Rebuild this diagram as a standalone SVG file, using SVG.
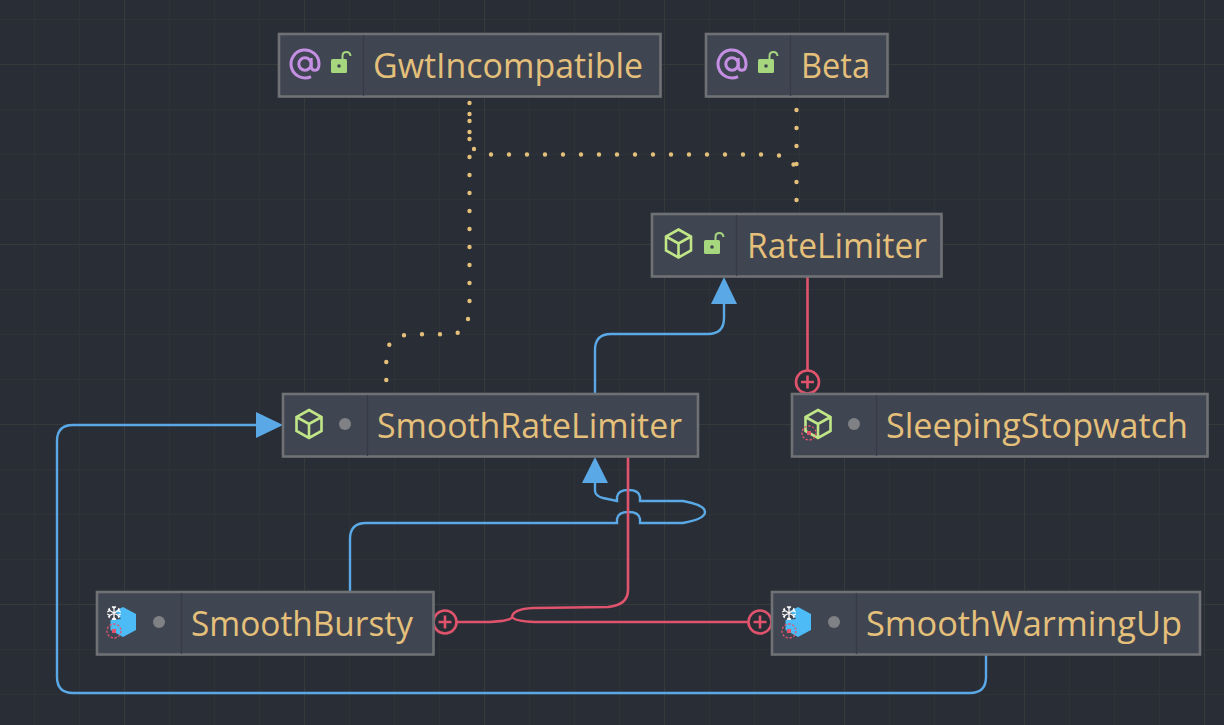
<svg xmlns="http://www.w3.org/2000/svg" width="1224" height="725" viewBox="0 0 1224 725">
  <style>
    .grid-minor { stroke: #2f3237; stroke-width: 1; }
    .grid-major { stroke: #37393b; stroke-width: 1; }
    .box { fill: #3f4551; stroke: #6f7175; stroke-width: 2.6; }
    .div { stroke: #363b45; stroke-width: 1.2; }
    .name { font-family: "Open Sans", sans-serif; font-size: 35.5px; fill: #e5c07b; }
    .blue { fill: none; stroke: #5aa9e6; stroke-width: 2.4; }
    .red { fill: none; stroke: #e0536d; stroke-width: 2.6; }
    .dots { fill: none; stroke: #e5c07b; stroke-width: 4.4; stroke-linecap: round; stroke-dasharray: 0 18; }
    .arrow { fill: #5aa9e6; }
    .dot { fill: #7f8184; }
    .cube { fill: none; stroke: #c0e688; stroke-width: 2.6; stroke-linejoin: miter; }
    .lock { fill: #a6d67e; }
    .shackle { fill: none; stroke: #a6d67e; stroke-width: 2; }
    .at { fill: none; stroke: #c58fe3; stroke-width: 3; }
    .flake { stroke: #ffffff; stroke-width: 1.2; fill: none; }
    .scope { fill: none; stroke: #e0536d; stroke-width: 1.3; stroke-dasharray: 2.4 1.6; }
    .scope-core { fill: #e0536d; }
    .joint { fill: #292d35; stroke: #e0536d; stroke-width: 2.6; }
    .solid { fill: #4dbbf5; }
  </style>
  <defs>
    <g id="annotation">
      <circle class="at" cx="0" cy="0" r="6.200"/>
      <path class="at" d="M6.200 -6 V2 Q6.200 6.300 10 6.300 Q14 6.300 14 0 A14 14 0 1 0 6 12.600"/>
    </g>
    <g id="open-lock">
      <rect class="lock" x="-8" y="-4" width="16" height="14" rx="1.500"/>
      <circle cx="0" cy="3" r="1.800" fill="#3f4551"/>
      <path class="shackle" d="M3.500 -4 V-7 Q3.500 -11 7.500 -11 Q11 -11 11.500 -7"/>
    </g>
    <g id="cube">
      <path class="cube" d="M0 -14 L12.500 -7 V7 L0 14 L-12.500 7 V-7 Z M-12.500 -7 L0 0 L12.500 -7 M0 0 V14"/>
    </g>
    <g id="solid-cube">
      <path class="solid" d="M0 -15 L13 -8 V8 L0 15 L-12.500 8 V-2 L-2 -3 L-8 -11 Z"/>
    </g>
    <g id="snow">
      <path class="flake" d="M0 -7 V7 M-6 -3.500 L6 3.500 M-6 3.500 L6 -3.500 M-2 -6.500 L0 -4.500 L2 -6.500 M-2 6.500 L0 4.500 L2 6.500 M-6.800 -1 L-4 -2.300 L-5 -5 M6.800 1 L4 2.300 L5 5 M-6.800 1 L-4 2.300 L-5 5 M6.800 -1 L4 -2.300 L5 -5"/>
    </g>
    <g id="scope-mark">
      <circle class="scope" cx="0" cy="0" r="7"/>
      <rect class="scope-core" x="-2" y="-2" width="4" height="4"/>
    </g>
  </defs>

  <rect width="1224" height="725" fill="#292d35"/>

  <!-- background grid -->
  <g id="grid">
    <path class="grid-minor" d="M34.500 0V725M79.500 0V725M169.500 0V725M214.500 0V725M259.500 0V725M349.500 0V725M394.500 0V725M439.500 0V725M529.500 0V725M574.500 0V725M619.500 0V725M709.500 0V725M754.500 0V725M799.500 0V725M889.500 0V725M934.500 0V725M979.500 0V725M1069.500 0V725M1114.500 0V725M1159.500 0V725M0 19.500H1224M0 109.500H1224M0 154.500H1224M0 199.500H1224M0 289.500H1224M0 334.500H1224M0 379.500H1224M0 469.500H1224M0 514.500H1224M0 559.500H1224M0 649.500H1224M0 694.500H1224"/>
    <path class="grid-major" d="M124.500 0V725M304.500 0V725M484.500 0V725M664.500 0V725M844.500 0V725M1024.500 0V725M1204.500 0V725M0 64.500H1224M0 244.500H1224M0 424.500H1224M0 604.500H1224"/>
  </g>

  <!-- relations between the classes -->
  <g id="connectors">
    <path class="dots" d="M796.500 200 V163.500 M793.500 164.500 h.01 M779 155.500 h.01 M761 154.500 H490.500 M474 149 h.01 M469.500 132 V113.500"/>
    <path class="dots" d="M386.300 380 V361.500 M389.300 344.700 h.01 M404 335.300 h.01 M422 334.300 h.01 M440 334.300 h.01 M457.700 332.700 h.01 M468 319 h.01 M469.500 301 V102.500"/>
    <path class="dots" d="M796.500 110 V163.500"/>
    <path class="blue" d="M595 394 V350 Q595 334 611 334 H708 Q724 334 724 318 V300"/>
    <path class="arrow" d="M724 277 L737 304 H711 Z"/>
    <path class="blue" d="M595 483 V491 Q595.500 496 603 498 L617 501 V497 Q618 490 628.500 490 Q639 490 640 497 V501 H683 Q705 505 705 512 Q705 519 683 523 H640 V519 Q639 512 628.500 512 Q618 512 617 519 V523 H366 Q350 523 350 539 V592"/>
    <path class="arrow" d="M595 457 L608 483 H582 Z"/>
    <path class="blue" d="M986 655 V677 Q986 693 970 693 H73 Q57 693 57 677 V441 Q57 425 73 425 H257"/>
    <path class="arrow" d="M283 425 L256 412 V438 Z"/>
    <path class="red" d="M807.500 277 V371"/>
    <circle class="joint" cx="807.500" cy="382" r="11.500"/>
    <path class="red" d="M801 382 H814 M807.500 375.500 V388.500"/>
    <path class="red" d="M628 457 V590 Q628 605 608 607 L533 608 Q513 609 512 617 Q511 621 490 622 H456"/>
    <path class="red" d="M512 617 Q514 621 535 622 H749"/>
    <circle class="joint" cx="445" cy="622" r="11.500"/>
    <path class="red" d="M438.500 622 H451.500 M445 615.500 V628.500"/>
    <circle class="joint" cx="760" cy="622" r="11.500"/>
    <path class="red" d="M753.500 622 H766.500 M760 615.500 V628.500"/>
  </g>

  <g id="GwtIncompatible">
    <rect class="box" x="279" y="34" width="381.500" height="62.500"/>
    <path class="div" d="M363.500 35 V96"/>
    <use href="#annotation" x="305" y="64"/>
    <use href="#open-lock" x="339" y="63"/>
    <text class="name" x="373" y="78" textLength="270" lengthAdjust="spacingAndGlyphs">GwtIncompatible</text>
  </g>
  <g id="Beta">
    <rect class="box" x="706" y="34" width="181.500" height="62.500"/>
    <path class="div" d="M790.500 35 V96"/>
    <use href="#annotation" x="732" y="64"/>
    <use href="#open-lock" x="766" y="63"/>
    <text class="name" x="801" y="78" textLength="69" lengthAdjust="spacingAndGlyphs">Beta</text>
  </g>
  <g id="RateLimiter">
    <rect class="box" x="652" y="214" width="289.500" height="62.500"/>
    <path class="div" d="M736.500 215 V276"/>
    <use href="#cube" x="678.500" y="243.500"/>
    <use href="#open-lock" x="712" y="244"/>
    <text class="name" x="747" y="258" textLength="180" lengthAdjust="spacingAndGlyphs">RateLimiter</text>
  </g>
  <g id="SmoothRateLimiter">
    <rect class="box" x="283" y="394" width="415" height="62.500"/>
    <path class="div" d="M367.500 395 V456"/>
    <use href="#cube" x="309" y="424"/>
    <circle class="dot" cx="345" cy="424" r="6"/>
    <text class="name" x="377" y="438" textLength="305" lengthAdjust="spacingAndGlyphs">SmoothRateLimiter</text>
  </g>
  <g id="SleepingStopwatch">
    <rect class="box" x="792" y="394" width="415.500" height="62.500"/>
    <path class="div" d="M876.500 395 V456"/>
    <use href="#cube" x="818" y="424"/>
    <use href="#scope-mark" x="809" y="433"/>
    <circle class="dot" cx="854" cy="424" r="6"/>
    <text class="name" x="886" y="438" textLength="302" lengthAdjust="spacingAndGlyphs">SleepingStopwatch</text>
  </g>
  <g id="SmoothBursty">
    <rect class="box" x="97" y="592" width="336.500" height="62.500"/>
    <path class="div" d="M181.500 593 V654"/>
    <use href="#solid-cube" x="123" y="622"/>
    <use href="#snow" x="114" y="613"/>
    <use href="#scope-mark" x="114" y="631"/>
    <circle class="dot" cx="159" cy="622" r="6"/>
    <text class="name" x="191" y="636" textLength="222" lengthAdjust="spacingAndGlyphs">SmoothBursty</text>
  </g>
  <g id="SmoothWarmingUp">
    <rect class="box" x="772" y="592" width="428" height="62.500"/>
    <path class="div" d="M856.500 593 V654"/>
    <use href="#solid-cube" x="798" y="622"/>
    <use href="#snow" x="789" y="613"/>
    <use href="#scope-mark" x="789" y="631"/>
    <circle class="dot" cx="834" cy="622" r="6"/>
    <text class="name" x="866" y="636" textLength="316" lengthAdjust="spacingAndGlyphs">SmoothWarmingUp</text>
  </g>
</svg>
